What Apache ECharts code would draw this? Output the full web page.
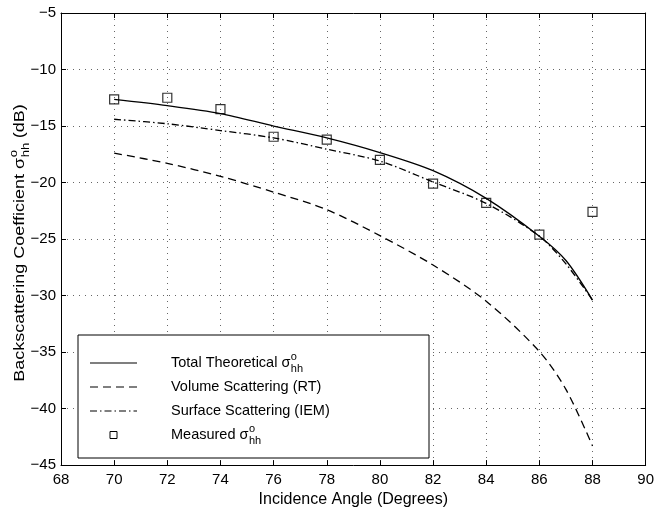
<!DOCTYPE html>
<html>
<head>
<meta charset="utf-8">
<script src="https://cdn.jsdelivr.net/npm/echarts@6/dist/echarts.min.js"></script>
<style>
html,body{margin:0;padding:0;background:#fff;}
#chart{width:657px;height:513px;}
</style>
</head>
<body>
<div id="chart"></div>
<script>
// ---- data ----
var angles = [70, 72, 74, 76, 78, 80, 82, 84, 86, 87, 88];
var totalTheoretical = [-12.65, -13.2, -13.9, -15.0, -16.05, -17.35, -18.95, -21.4, -24.75, -26.9, -30.4];
var volumeRT = [-17.4, -18.3, -19.45, -20.85, -22.4, -24.7, -27.3, -30.5, -34.95, -38.3, -43.3];
var surfaceIEM = [-14.4, -14.8, -15.4, -16.05, -17.05, -18.1, -19.95, -21.85, -24.75, -27.2, -30.4];
var measuredAngles = [70, 72, 74, 76, 78, 80, 82, 84, 86, 88];
var measured = [-12.65, -12.5, -13.5, -15.95, -16.2, -18.0, -20.1, -21.8, -24.6, -22.6];
var legendNames = ['Total Theoretical σ', 'Volume Scattering (RT)', 'Surface Scattering (IEM)', 'Measured σ'];
var legendHasSigma = [true, false, false, true];
var xTicks = {min: 68, max: 90, interval: 2};
var yTicks = {min: -45, max: -5, interval: 5};

// ---- helpers ----
var FONT = 'Liberation Sans, Arial, Helvetica, sans-serif';
var cnv = document.createElement('canvas').getContext('2d');
function tw(text, size) { cnv.font = size + 'px ' + FONT; return cnv.measureText(text).width; }
function pair(xs, ys) { return xs.map(function (x, i) { return [x, ys[i]]; }); }
function minus(v) { return String(v).replace('-', '\u2212'); }

var chart = echarts.init(document.getElementById('chart'), null, {renderer: 'canvas'});

var dashVol = [8, 5];
var dashSurf = [7, 3, 1.5, 3];

// legend graphics
var gx = 78, gy = 335, gw = 351, gh = 123;
var rowY = [363, 387, 411, 435];
var lx0 = 90, lx1 = 137, textX = 171, lfs = 14.5;
var legendEls = [{
  type: 'rect', shape: {x: gx, y: gy, width: gw, height: gh},
  style: {fill: '#fff', stroke: '#000', lineWidth: 1}, z: 100
}];
var lineStyles = [null, dashVol, dashSurf];
for (var i = 0; i < 4; i++) {
  if (i < 3) {
    legendEls.push({type: 'line', shape: {x1: lx0, y1: rowY[i], x2: lx1, y2: rowY[i]},
      style: {stroke: '#000', lineWidth: 1.2, lineDash: lineStyles[i]}, z: 101});
  } else {
    legendEls.push({type: 'rect', shape: {x: 110, y: rowY[i] - 3.5, width: 7, height: 7},
      style: {fill: '#fff', stroke: '#000', lineWidth: 1}, z: 101});
  }
  legendEls.push({type: 'text', x: textX, y: rowY[i], z: 101,
    style: {text: legendNames[i], font: lfs + 'px ' + FONT, fill: '#000', textVerticalAlign: 'middle'}});
  if (legendHasSigma[i]) {
    var w = tw(legendNames[i], lfs);
    legendEls.push({type: 'text', x: textX + w + 0.5, y: rowY[i] - 6, z: 101,
      style: {text: 'o', font: '11px ' + FONT, fill: '#000', textVerticalAlign: 'middle'}});
    legendEls.push({type: 'text', x: textX + w + 0.5, y: rowY[i] + 6, z: 101,
      style: {text: 'hh', font: '11px ' + FONT, fill: '#000', textVerticalAlign: 'middle'}});
  }
}

// y-axis name (rotated, stretched group)
var yn1 = 'Backscattering Coefficient σ', yn2 = ' (dB)', yfs = 15;
var w1 = tw(yn1, yfs), wsub = tw('hh', 11), w2 = tw(yn2, yfs);
var W = w1 + wsub + w2;
var s0 = -W / 2;
var yNameGroup = {
  type: 'group', x: 20, y: 243, rotation: Math.PI / 2, scaleX: 1.2, scaleY: 1, z: 50,
  children: [
    {type: 'text', x: s0, y: 0, style: {text: yn1, font: yfs + 'px ' + FONT, fill: '#000', textVerticalAlign: 'middle'}},
    {type: 'text', x: s0 + w1 + 0.5, y: -6, style: {text: 'o', font: '11px ' + FONT, fill: '#000', textVerticalAlign: 'middle'}},
    {type: 'text', x: s0 + w1 + 0.5, y: 6, style: {text: 'hh', font: '11px ' + FONT, fill: '#000', textVerticalAlign: 'middle'}},
    {type: 'text', x: s0 + w1 + wsub, y: 0, style: {text: yn2, font: yfs + 'px ' + FONT, fill: '#000', textVerticalAlign: 'middle'}}
  ]
};

var axisLabelStyle = {color: '#000', fontSize: 15, fontFamily: FONT};
var splitStyle = {show: true, lineStyle: {color: '#666', type: [1, 5], width: 1}};
var tickIn = {show: true, inside: true, length: 5, lineStyle: {color: '#000'}};

var option = {
  backgroundColor: '#fff',
  animation: false,
  grid: {left: 61, right: 9, top: 13, bottom: 41, show: false},
  xAxis: [{
    type: 'value', min: xTicks.min, max: xTicks.max, interval: xTicks.interval,
    axisLine: {show: true, lineStyle: {color: '#000', width: 1}},
    axisTick: tickIn,
    axisLabel: Object.assign({margin: 7}, axisLabelStyle),
    splitLine: splitStyle,
    name: 'Incidence Angle (Degrees)', nameLocation: 'middle', nameGap: 23,
    nameTextStyle: {color: '#000', fontSize: 16, fontFamily: FONT}
  }, {
    type: 'value', position: 'top', min: xTicks.min, max: xTicks.max, interval: xTicks.interval,
    axisLine: {show: true, onZero: false, lineStyle: {color: '#000', width: 1}},
    axisTick: tickIn, axisLabel: {show: false}, splitLine: {show: false}
  }],
  yAxis: [{
    type: 'value', min: yTicks.min, max: yTicks.max, interval: yTicks.interval,
    axisLine: {show: true, onZero: false, lineStyle: {color: '#000', width: 1}},
    axisTick: tickIn,
    axisLabel: Object.assign({margin: 5, formatter: minus}, axisLabelStyle),
    splitLine: splitStyle
  }, {
    type: 'value', position: 'right', min: yTicks.min, max: yTicks.max, interval: yTicks.interval,
    axisLine: {show: true, onZero: false, lineStyle: {color: '#000', width: 1}},
    axisTick: tickIn, axisLabel: {show: false}, splitLine: {show: false}
  }],
  series: [{
    name: 'Total', type: 'line', data: pair(angles, totalTheoretical), showSymbol: false, smooth: 0.3,
    lineStyle: {color: '#000', width: 1.3}, z: 3
  }, {
    name: 'Volume', type: 'line', data: pair(angles, volumeRT), showSymbol: false, smooth: 0.3,
    lineStyle: {color: '#000', width: 1.3, type: dashVol}, z: 3
  }, {
    name: 'Surface', type: 'line', data: pair(angles, surfaceIEM), showSymbol: false, smooth: 0.3,
    lineStyle: {color: '#000', width: 1.3, type: dashSurf}, z: 3
  }, {
    name: 'Measured', type: 'scatter', data: pair(measuredAngles, measured), symbol: 'rect', symbolSize: 9,
    itemStyle: {color: 'rgba(255,255,255,0)', borderColor: '#000', borderWidth: 1.2}, z: 4
  }],
  graphic: legendEls.concat([yNameGroup])
};
chart.setOption(option);
</script>
</body>
</html>
